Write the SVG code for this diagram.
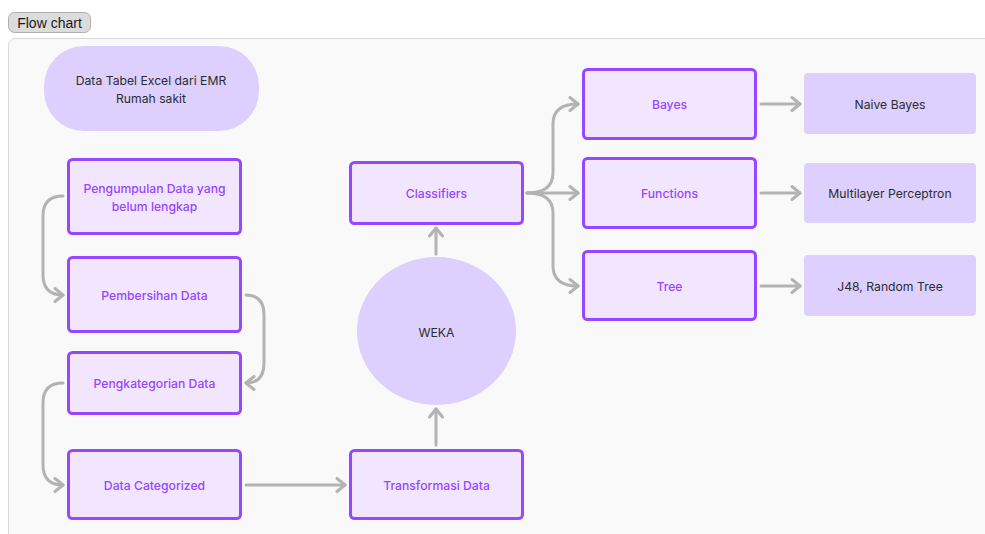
<svg xmlns="http://www.w3.org/2000/svg" width="985" height="534" viewBox="0 0 985 534">
<defs>
<style>
.box{fill:#f2e6ff;stroke:#9747ff;stroke-width:3}
.res{fill:#ddd0fe}
.pt{font-family:Inter,"Noto Sans",sans-serif;font-size:12.2px;font-weight:500;fill:#9747ff;text-anchor:middle;dominant-baseline:central}
.dt{font-family:Inter,"Noto Sans",sans-serif;font-size:12.2px;font-weight:400;fill:#2c2c2c;text-anchor:middle;dominant-baseline:central}
.c{fill:none;stroke:#b3b3b3;stroke-width:3;stroke-linecap:round;stroke-linejoin:round}
</style>
<marker id="ah" viewBox="0 0 12 16" refX="10" refY="8" markerWidth="12" markerHeight="16" markerUnits="userSpaceOnUse" orient="auto">
<path d="M2,1.5 L10,8 L2,14.5" fill="none" stroke="#b3b3b3" stroke-width="3" stroke-linecap="round" stroke-linejoin="round"/>
</marker>
</defs>
<rect width="985" height="534" fill="#ffffff"/>
<rect x="8.5" y="38.5" width="990" height="510" rx="7" fill="#f9f9f9" stroke="#d9d9d9"/>
<g id="title">
<rect x="8.5" y="12.5" width="82" height="20" rx="6" fill="#dcdcdc" stroke="#b0b0b0"/>
<text x="49.5" y="23" font-family="'Liberation Sans',Arial,sans-serif" font-size="14" fill="#1a1a1a" text-anchor="middle" dominant-baseline="central">Flow chart</text>
</g>
<g id="connectors">
<path class="c" d="M63,196 Q43,196 43,216 L43,275 Q43,295 63,295" marker-end="url(#ah)"/>
<path class="c" d="M246,295 Q264,295 264,315 L264,363 Q264,383 246,383" marker-end="url(#ah)"/>
<path class="c" d="M63,383 Q43,383 43,403 L43,465 Q43,485 63,485" marker-end="url(#ah)"/>
<path class="c" d="M246,485 L345,485" marker-end="url(#ah)"/>
<path class="c" d="M436,445 L436,409" marker-end="url(#ah)"/>
<path class="c" d="M436,254 L436,228" marker-end="url(#ah)"/>
<path class="c" d="M527,193 Q553,193 553,173 L553,124 Q553,104 578,104" marker-end="url(#ah)"/>
<path class="c" d="M527,193 L578,193" marker-end="url(#ah)"/>
<path class="c" d="M527,193 Q553,193 553,213 L553,266 Q553,286 578,286" marker-end="url(#ah)"/>
<path class="c" d="M761,104 L800,104" marker-end="url(#ah)"/>
<path class="c" d="M761,193 L800,193" marker-end="url(#ah)"/>
<path class="c" d="M761,286 L800,286" marker-end="url(#ah)"/>
</g>
<g id="n-excel">
<rect class="res" x="44" y="46" width="215" height="85" rx="40"/>
<text class="dt" x="151" y="80">Data Tabel Excel dari EMR</text>
<text class="dt" x="151" y="98">Rumah sakit</text>
</g>
<g id="n-pengumpulan">
<rect class="box" x="68.5" y="159.5" width="172" height="74" rx="4"/>
<text class="pt" x="154.5" y="188">Pengumpulan Data yang</text>
<text class="pt" x="154.5" y="206">belum lengkap</text>
</g>
<g id="n-pembersihan">
<rect class="box" x="68.5" y="257.5" width="172" height="74" rx="4"/>
<text class="pt" x="154.5" y="295">Pembersihan Data</text>
</g>
<g id="n-pengkategorian">
<rect class="box" x="68.5" y="352.5" width="172" height="61" rx="4"/>
<text class="pt" x="154.5" y="383">Pengkategorian Data</text>
</g>
<g id="n-categorized">
<rect class="box" x="68.5" y="450.5" width="172" height="68" rx="4"/>
<text class="pt" x="154.5" y="485">Data Categorized</text>
</g>
<g id="n-transformasi">
<rect class="box" x="350.5" y="450.5" width="172" height="68" rx="4"/>
<text class="pt" x="436.5" y="485">Transformasi Data</text>
</g>
<g id="n-weka">
<ellipse class="res" cx="436.5" cy="331" rx="79.5" ry="74"/>
<text class="dt" x="436.5" y="332">WEKA</text>
</g>
<g id="n-classifiers">
<rect class="box" x="350.5" y="162.5" width="172" height="61" rx="4"/>
<text class="pt" x="436.5" y="193">Classifiers</text>
</g>
<g id="n-bayes">
<rect class="box" x="583.5" y="69.5" width="172" height="69" rx="4"/>
<text class="pt" x="669.5" y="104">Bayes</text>
</g>
<g id="n-functions">
<rect class="box" x="583.5" y="158.5" width="172" height="69" rx="4"/>
<text class="pt" x="669.5" y="193">Functions</text>
</g>
<g id="n-tree">
<rect class="box" x="583.5" y="251.5" width="172" height="68" rx="4"/>
<text class="pt" x="669.5" y="286">Tree</text>
</g>
<g id="n-naive">
<rect class="res" x="804" y="73" width="172" height="61" rx="4"/>
<text class="dt" x="890" y="104">Naive Bayes</text>
</g>
<g id="n-mlp">
<rect class="res" x="804" y="163" width="172" height="60" rx="4"/>
<text class="dt" x="890" y="193">Multilayer Perceptron</text>
</g>
<g id="n-j48">
<rect class="res" x="804" y="255" width="172" height="61" rx="4"/>
<text class="dt" x="890" y="286">J48, Random Tree</text>
</g>
</svg>
